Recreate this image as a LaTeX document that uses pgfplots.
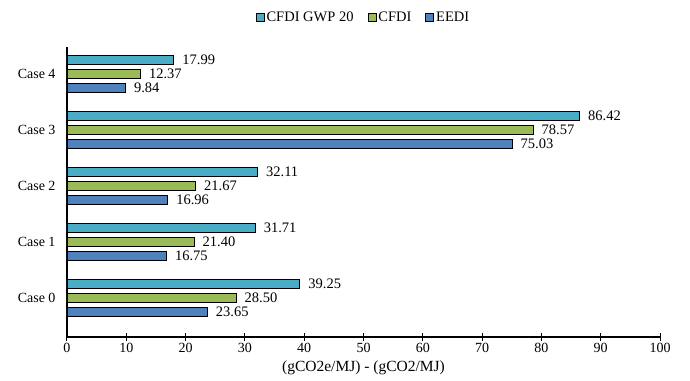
\documentclass[border=0pt]{standalone}
\usepackage{pgfplots}
\pgfplotsset{compat=1.18}
\usepackage{fontspec}
\setmainfont{Liberation Serif}
\definecolor{cgwp}{HTML}{4BACC6}
\definecolor{ccfdi}{HTML}{9BBB59}
\definecolor{ceedi}{HTML}{4F81BD}
\begin{document}
\begin{tikzpicture}
\path[use as bounding box] (-67pt,-43pt) rectangle (623pt,337pt);
\begin{axis}[
  at={(0,0)}, anchor=south west,
  scale only axis, width=593pt, height=290pt,
  xmin=0, xmax=100, xtick={0,10,...,100},
  ymin=-0.7, ymax=4.48,
  ytick={0,1,2,3,4}, yticklabels={Case 0,Case 1,Case 2,Case 3,Case 4},
  axis x line=bottom, axis y line=left,
  axis line style={-, line width=1.8pt, black},
  tick align=center, major tick length=8pt,
  xtick style={line width=1pt, black},
  ytick style={draw=none},
  /pgf/number format/assume math mode=true,
  xticklabel style={font=\fontsize{14}{16}\selectfont, yshift=1pt},
  yticklabel style={font=\fontsize{14}{16}\selectfont},
  xlabel={(gCO2e/MJ) - (gCO2/MJ)},
  xlabel style={font=\fontsize{15.5}{17}\selectfont, at={(axis description cs:0.5,-0.107)}, anchor=center},
  xbar, bar width=9.5pt,
  nodes near coords={\pgfmathprintnumber[fixed,fixed zerofill,precision=2]{\pgfplotspointmeta}},
  nodes near coords style={font=\fontsize{14.5}{16}\selectfont, anchor=west, xshift=5pt, text=black},
  point meta=explicit symbolic,
  legend style={at={(axis description cs:0.5,1.103)}, anchor=center, draw=none,
    legend columns=3, font=\fontsize{14.5}{16}\selectfont,
    /tikz/every even column/.append style={column sep=12pt}},
  legend image code/.code={\draw[#1, draw=black, line width=0.8pt] (0pt,-4pt) rectangle (8pt,4pt);},
]
\addplot[fill=cgwp, draw=black, line width=0.8pt, bar shift=14pt] coordinates {
 (39.25,0) [39.25] (31.71,1) [31.71] (32.11,2) [32.11] (86.42,3) [86.42] (17.99,4) [17.99]};
\addplot[fill=ccfdi, draw=black, line width=0.8pt, bar shift=0pt] coordinates {
 (28.50,0) [28.50] (21.40,1) [21.40] (21.67,2) [21.67] (78.57,3) [78.57] (12.37,4) [12.37]};
\addplot[fill=ceedi, draw=black, line width=0.8pt, bar shift=-14pt] coordinates {
 (23.65,0) [23.65] (16.75,1) [16.75] (16.96,2) [16.96] (75.03,3) [75.03] (9.84,4) [9.84]};
\legend{CFDI GWP 20, CFDI, EEDI}
\end{axis}
\end{tikzpicture}
\end{document}
